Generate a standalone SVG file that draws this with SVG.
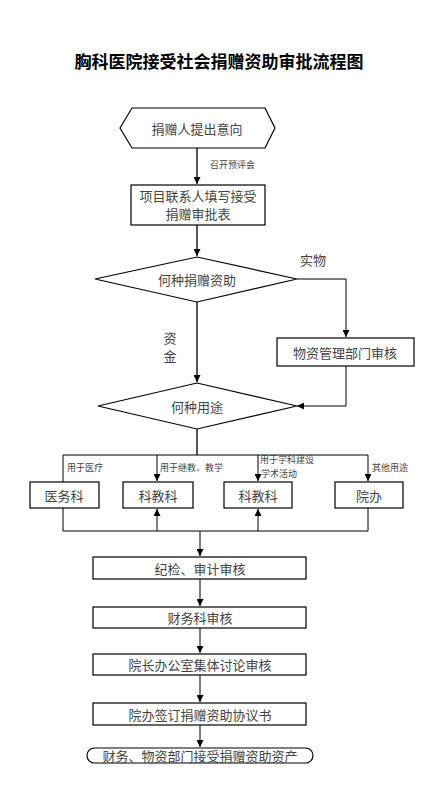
<svg xmlns="http://www.w3.org/2000/svg" width="438" height="800" viewBox="0 0 438 800">
<style>
.bg{fill:#fff}
.n{fill:#fff;stroke:#000;stroke-width:1.2}
.t{font-family:"Noto Sans CJK SC","Noto Sans CJK JP",sans-serif;font-size:13px;fill:#444;text-anchor:middle;dominant-baseline:central}
.s{font-family:"Noto Sans CJK SC","Noto Sans CJK JP",sans-serif;font-size:9px;fill:#444;dominant-baseline:central}
.title{font-family:"Noto Sans CJK SC","Noto Sans CJK JP",sans-serif;font-size:17px;font-weight:bold;fill:#000;text-anchor:middle}
.c{fill:none;stroke:#000;stroke-width:1}
.m{fill:none;stroke:#555;stroke-width:2}
</style>
<defs>
<marker id="a" viewBox="0 0 10 10" refX="10" refY="5" markerWidth="7" markerHeight="7" markerUnits="userSpaceOnUse" orient="auto"><path d="M0,0L10,5L0,10z" fill="#000"/></marker>
</defs>
<rect class="bg" width="438" height="800"/>
<text class="title" x="219" y="68">胸科医院接受社会捐赠资助审批流程图</text>
<g id="connectors">
<path class="m" d="M197,148V184" marker-end="url(#a)"/>
<path class="m" d="M197,225V256" marker-end="url(#a)"/>
<path class="m" d="M197,302V382" marker-end="url(#a)"/>
<path class="c" d="M297,279H346V337" marker-end="url(#a)"/>
<path class="c" d="M346,366V406H297" marker-end="url(#a)"/>
<path class="m" d="M197,429V455"/>
<path class="c" d="M63,455H368"/>
<path class="c" d="M63,455V482"/>
<path class="c" d="M157,455V481" marker-end="url(#a)"/>
<path class="c" d="M258,455V481" marker-end="url(#a)"/>
<path class="c" d="M368,455V481" marker-end="url(#a)"/>
<path class="c" d="M63,508V531H368V508"/>
<path class="c" d="M157,531V509" marker-end="url(#a)"/>
<path class="c" d="M258,531V509" marker-end="url(#a)"/>
<path class="c" d="M200,531V556" marker-end="url(#a)"/>
<path class="c" d="M200,579V606" marker-end="url(#a)"/>
<path class="c" d="M200,628V653" marker-end="url(#a)"/>
<path class="c" d="M200,675V702" marker-end="url(#a)"/>
<path class="c" d="M200,725V747" marker-end="url(#a)"/>
<text class="s" x="210" y="164">召开预评会</text>
<text class="t" x="313" y="259">实物</text>
<text class="t" x="170" y="337">资</text>
<text class="t" x="170" y="355">金</text>
<text class="s" x="67" y="467">用于医疗</text>
<text class="s" x="160" y="467">用于继教、教学</text>
<text class="s" x="260" y="459">用于学科建设</text>
<text class="s" x="261" y="473">学术活动</text>
<text class="s" x="372" y="467">其他用途</text>
</g>
<g id="start"><path class="n" d="M120,128L132,108H265L275,128L265,148H132Z"/><text class="t" x="197" y="128">捐赠人提出意向</text></g>
<g id="form"><rect class="n" x="131" y="185" width="134" height="40"/><text class="t" x="198" y="195">项目联系人填写接受</text><text class="t" x="198" y="213">捐赠审批表</text></g>
<g id="d1"><path class="n" d="M95,279L197,257L297,279L197,302Z"/><text class="t" x="197" y="279">何种捐赠资助</text></g>
<g id="wuzi"><rect class="n" x="277" y="338" width="137" height="28"/><text class="t" x="345" y="352">物资管理部门审核</text></g>
<g id="d2"><path class="n" d="M98,406L197,383L297,406L197,429Z"/><text class="t" x="197" y="406">何种用途</text></g>
<g id="yiwu"><rect class="n" x="30" y="482" width="69" height="26"/><text class="t" x="64" y="495">医务科</text></g>
<g id="kejiao1"><rect class="n" x="123" y="482" width="70" height="26"/><text class="t" x="158" y="495">科教科</text></g>
<g id="kejiao2"><rect class="n" x="224" y="482" width="68" height="26"/><text class="t" x="258" y="495">科教科</text></g>
<g id="yuanban"><rect class="n" x="335" y="482" width="68" height="26"/><text class="t" x="369" y="495">院办</text></g>
<g id="jijian"><rect class="n" x="93" y="557" width="213" height="22"/><text class="t" x="200" y="568">纪检、审计审核</text></g>
<g id="caiwu"><rect class="n" x="93" y="607" width="213" height="21"/><text class="t" x="200" y="617.5">财务科审核</text></g>
<g id="yuanzhang"><rect class="n" x="93" y="654" width="213" height="21"/><text class="t" x="200" y="664.5">院长办公室集体讨论审核</text></g>
<g id="xieyi"><rect class="n" x="93" y="703" width="213" height="22"/><text class="t" x="200" y="714">院办签订捐赠资助协议书</text></g>
<g id="end"><rect class="n" x="87" y="748" width="226" height="15" rx="7.5"/><text class="t" x="200" y="755.5">财务、物资部门接受捐赠资助资产</text></g>
</svg>
